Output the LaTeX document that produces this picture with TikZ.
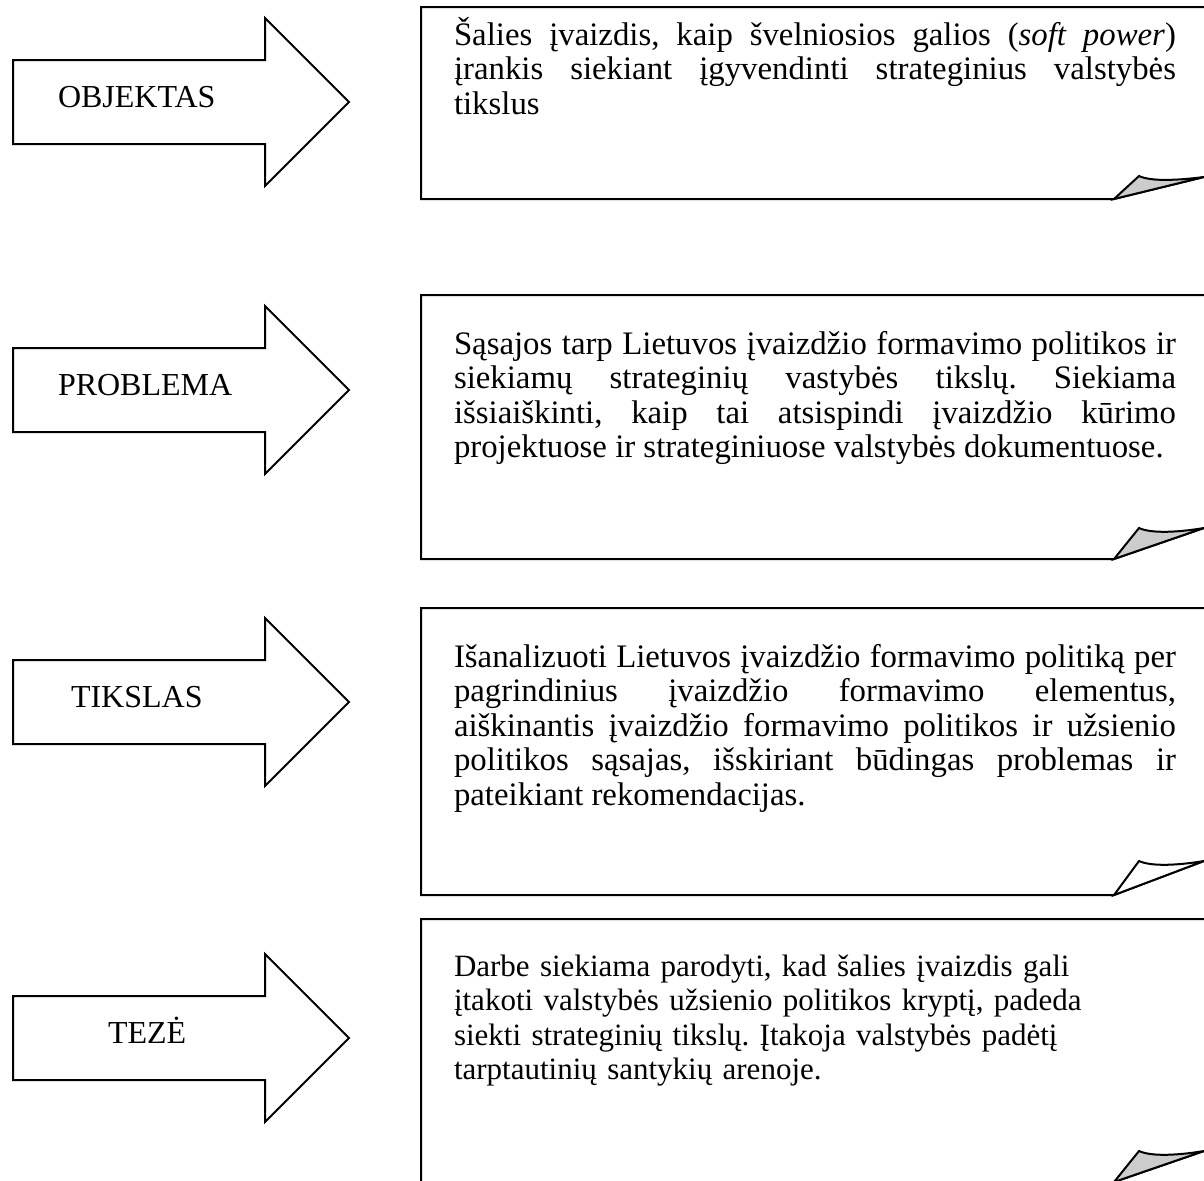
\documentclass[tikz,border=0pt]{standalone}
\usepackage{fontspec}
\setmainfont{Liberation Serif}
\frenchspacing

\begin{document}
\begin{tikzpicture}[x=0.5pt,y=-0.5pt,line width=1pt,line join=miter,
  every node/.style={inner sep=0pt,font=\fontsize{16}{17.25}\selectfont},
  arrowshape/.style={draw=black},
  notebox/.style={draw=black},
  foldface/.style={draw=black,fill=gray!40},
  foldwhite/.style={draw=black,fill=white},
  boxtext/.style={anchor=base west,text width=361pt,align=justify,
    font=\fontsize{16.4}{17.25}\selectfont,
    execute at begin node={\hyphenpenalty=10000\tolerance=10000}},
  boxtextleft/.style={anchor=base west,text width=361pt,align=left,
    font=\fontsize{15.5}{17.25}\selectfont}]
\useasboundingbox (0,0) rectangle (1204,1180);

% OBJEKTAS
\draw [arrowshape] (13,60) -- (265,60) -- (265,18) -- (349,102) -- (265,186) -- (265,144) -- (13,144) -- cycle;
\node [anchor=base west] (objektas) at (57,107) {OBJEKTAS};
\draw [notebox] (1212,7) -- (421,7) -- (421,199) -- (1114,199) -- (1204,177);
\filldraw [foldface] (1114,199) -- (1139,176) .. controls (1152,182) and (1180,180) .. (1204,177) -- cycle;
\node [boxtext] (objtext) at (453,45) {\v{S}alies įvaizdis, kaip švelniosios galios (\textit{soft power})\linebreak
  įrankis siekiant įgyvendinti strateginius valstybės\linebreak
  tikslus};

% PROBLEMA
\draw [arrowshape] (13,348) -- (265,348) -- (265,306) -- (349,390) -- (265,474) -- (265,432) -- (13,432) -- cycle;
\node [anchor=base west] (problema) at (57,395) {PROBLEMA};
\draw [notebox] (1212,295) -- (421,295) -- (421,559) -- (1114,559) -- (1204,528);
\filldraw [foldface] (1114,559) -- (1139,528) .. controls (1152,534) and (1180,532) .. (1204,528) -- cycle;
\node [boxtext] (probtext) at (453,354) {Sąsajos tarp Lietuvos įvaizdžio formavimo politikos ir\linebreak
  siekiamų strateginių vastybės tikslų. Siekiama\linebreak
  išsiaiškinti, kaip tai atsispindi įvaizdžio kūrimo\linebreak
  projektuose ir strateginiuose valstybės dokumentuose.};

% TIKSLAS
\draw [arrowshape] (13,660) -- (265,660) -- (265,618) -- (349,702) -- (265,786) -- (265,744) -- (13,744) -- cycle;
\node [anchor=base west] (tikslas) at (70,707) {TIKSLAS};
\draw [notebox] (1212,608) -- (421,608) -- (421,895) -- (1114,895) -- (1204,861);
\filldraw [foldwhite] (1114,895) -- (1139,861) .. controls (1152,867) and (1180,865) .. (1204,861) -- cycle;
\node [boxtext] (tikstext) at (453,667) {Išanalizuoti Lietuvos įvaizdžio formavimo politiką per\linebreak
  pagrindinius įvaizdžio formavimo elementus,\linebreak
  aiškinantis įvaizdžio formavimo politikos ir užsienio\linebreak
  politikos sąsajas, išskiriant būdingas problemas ir\linebreak
  pateikiant rekomendacijas.};

% TEZĖ
\draw [arrowshape] (13,996) -- (265,996) -- (265,954) -- (349,1038) -- (265,1122) -- (265,1080) -- (13,1080) -- cycle;
\node [anchor=base west] (teze) at (107,1043) {TEZĖ};
\draw [notebox] (1212,919) -- (421,919) -- (421,1182) -- (1114,1182) -- (1204,1151);
\filldraw [foldface] (1114,1182) -- (1139,1151) .. controls (1152,1157) and (1180,1155) .. (1204,1151) -- cycle;
\node [boxtextleft] (tezetext) at (453,976) {Darbe siekiama parodyti, kad šalies įvaizdis gali\\
  įtakoti valstybės užsienio politikos kryptį, padeda\\
  siekti strateginių tikslų. Įtakoja valstybės padėtį\\
  tarptautinių santykių arenoje.};
\end{tikzpicture}
\end{document}
